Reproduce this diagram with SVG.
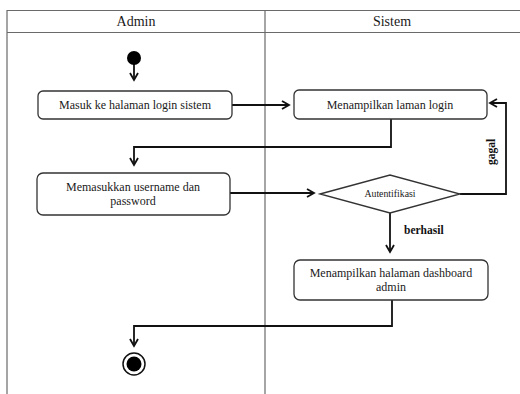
<svg xmlns="http://www.w3.org/2000/svg" width="520" height="394" viewBox="0 0 520 394">
  <style>
    .lane { fill: none; stroke: #6a6a6a; stroke-width: 1.2; }
    .box { fill: #ffffff; stroke: #333333; stroke-width: 1.3; }
    .edge { fill: none; stroke: #111111; stroke-width: 1.8; }
    .hdr { font-family: "Liberation Serif", "Times New Roman", serif; font-size: 14px; fill: #1a1a1a; text-anchor: middle; }
    .txt { font-family: "Liberation Serif", "Times New Roman", serif; font-size: 12px; fill: #1a1a1a; text-anchor: middle; }
    .small { font-family: "Liberation Serif", "Times New Roman", serif; font-size: 9.8px; fill: #1a1a1a; text-anchor: middle; }
    .lbl { font-family: "Liberation Serif", "Times New Roman", serif; font-size: 11.5px; font-weight: bold; fill: #111; }
  </style>
  <defs>
    <marker id="arrow" markerWidth="10" markerHeight="10" refX="8" refY="5" orient="auto" markerUnits="userSpaceOnUse">
      <path d="M1,1 L8,5 L1,9" fill="none" stroke="#111" stroke-width="1.8"/>
    </marker>
  </defs>
  <rect width="520" height="394" fill="#ffffff"/>

  <!-- swimlanes -->
  <g id="swimlanes">
    <path class="lane" d="M7,394 V10.5 H520"/>
    <path class="lane" d="M7,32.5 H520"/>
    <path class="lane" d="M265,10.5 V394"/>
    <text class="hdr" x="136" y="26">Admin</text>
    <text class="hdr" x="392" y="26">Sistem</text>
  </g>

  <!-- connectors -->
  <g id="connectors">
    <path class="edge" d="M134,64 V80" marker-end="url(#arrow)"/>
    <path class="edge" d="M232,105 H289" marker-end="url(#arrow)"/>
    <path class="edge" d="M391,119 V147 H134 V165" marker-end="url(#arrow)"/>
    <path class="edge" d="M230,193 H314" marker-end="url(#arrow)"/>
    <path class="edge" d="M460,194 H506 V103 H490" marker-end="url(#arrow)"/>
    <path class="edge" d="M390,213 V252" marker-end="url(#arrow)"/>
    <path class="edge" d="M392,300 V326 H134 V346" marker-end="url(#arrow)"/>
    <text class="lbl" x="404" y="234">berhasil</text>
    <text class="lbl" transform="translate(495,152) rotate(-90)" text-anchor="middle">gagal</text>
  </g>

  <g id="start">
    <circle cx="134" cy="58" r="7" fill="#000"/>
  </g>

  <g id="masuk-login">
    <rect class="box" x="38" y="91" width="194" height="28" rx="5"/>
    <text class="txt" x="135" y="109">Masuk ke halaman login sistem</text>
  </g>

  <g id="tampil-login">
    <rect class="box" x="294" y="90" width="193" height="29" rx="5"/>
    <text class="txt" x="390" y="109">Menampilkan laman login</text>
  </g>

  <g id="input-kredensial">
    <rect class="box" x="37" y="173" width="193" height="42" rx="6"/>
    <text class="txt" x="133" y="191">Memasukkan username dan</text>
    <text class="txt" x="133" y="205">password</text>
  </g>

  <g id="autentifikasi">
    <polygon class="box" points="320,194 390,175 460,194 390,213"/>
    <text class="small" x="390" y="197">Autentifikasi</text>
  </g>

  <g id="dashboard">
    <rect class="box" x="294" y="260" width="194" height="40" rx="6"/>
    <text class="txt" x="391" y="277">Menampilkan halaman dashboard</text>
    <text class="txt" x="391" y="291">admin</text>
  </g>

  <g id="end">
    <circle cx="134" cy="364" r="11" fill="#fff" stroke="#111" stroke-width="1.5"/>
    <circle cx="134" cy="364" r="7.5" fill="#000"/>
  </g>
</svg>
